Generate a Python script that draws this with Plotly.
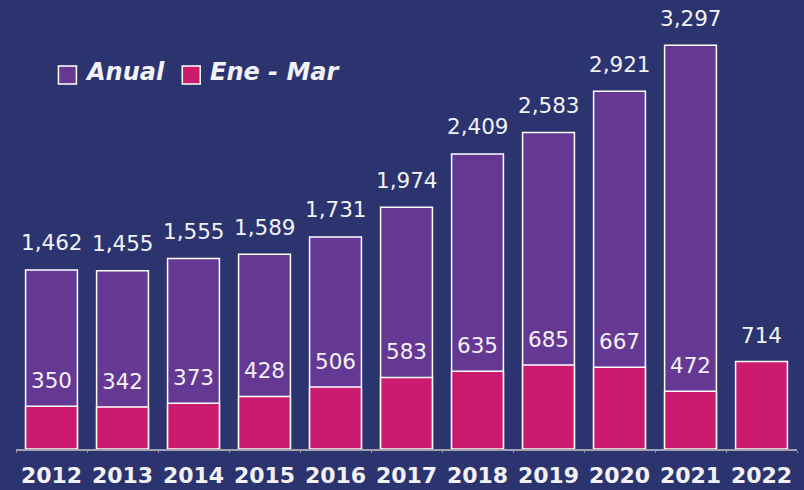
import plotly.graph_objects as go

years = ["2012", "2013", "2014", "2015", "2016", "2017", "2018", "2019", "2020", "2021", "2022"]
anual = [1462, 1455, 1555, 1589, 1731, 1974, 2409, 2583, 2921, 3297, None]
ene_mar = [350, 342, 373, 428, 506, 583, 635, 685, 667, 472, 714]

BG = "#2c3470"
PURPLE = "#653894"
MAGENTA = "#cc1b6e"
TXT = "#f2f2f4"
FONT = "DejaVu Sans"

fig = go.Figure()
fig.add_trace(go.Bar(
    x=years, y=anual, name="Anual",
    marker=dict(color=PURPLE, line=dict(color="white", width=1.5)),
    width=0.73, showlegend=False, hoverinfo="skip",
))
fig.add_trace(go.Bar(
    x=years, y=ene_mar, name="Ene - Mar",
    marker=dict(color=MAGENTA, line=dict(color="white", width=1.5)),
    width=0.73, showlegend=False, hoverinfo="skip",
))

# value labels above each bar (x given as category index)
annotations = []
for i, v in enumerate(anual):
    if v is not None:
        annotations.append(dict(
            x=i, y=v, text=f"{v:,}", showarrow=False, yanchor="middle",
            yshift=27, font=dict(family=FONT, size=21.5, color=TXT),
        ))
for i, v in enumerate(ene_mar):
    annotations.append(dict(
        x=i, y=v, text=f"{v:,}", showarrow=False, yanchor="middle",
        yshift=26, font=dict(family=FONT, size=21.5, color=TXT),
    ))

# legend drawn as swatches + labels
shapes = []
legend_items = [("Anual", PURPLE, 58, 83), ("Ene - Mar", MAGENTA, 182, 208)]
for label, col, sx, tx in legend_items:
    shapes.append(dict(
        type="rect", xref="paper", yref="paper",
        x0=(sx - 15.5) / 782, x1=(sx + 18 - 15.5) / 782,
        y0=(449 - 84) / 439, y1=(449 - 66) / 439,
        fillcolor=col, line=dict(color="white", width=1.5),
    ))
    annotations.append(dict(
        xref="paper", yref="paper", x=(tx - 15.5) / 782, y=(449 - 72) / 439,
        xanchor="left", yanchor="middle", text=f"<b><i>{label}</i></b>",
        showarrow=False, font=dict(family=FONT, size=24, color=TXT),
    ))

fig.update_layout(
    width=804, height=490,
    margin=dict(l=15.5, r=6.5, t=10, b=41),
    paper_bgcolor=BG, plot_bgcolor=BG,
    barmode="overlay", bargap=0.27,
    annotations=annotations, shapes=shapes,
    xaxis=dict(
        type="category", categoryorder="array", categoryarray=years,
        range=[-0.5, len(years) - 0.5], automargin=False,
        showgrid=False, showline=True, linecolor="#a3a3ad",
        linewidth=2, ticks="outside", tickson="boundaries", ticklen=2,
        tickcolor="#8e8ea0", tickwidth=1, ticklabelstandoff=6,
        tickfont=dict(family=FONT, size=22, color=TXT, weight="bold"),
        fixedrange=True,
    ),
    yaxis=dict(
        range=[0, 3584], showgrid=False, zeroline=False, showticklabels=False,
        automargin=False, fixedrange=True,
    ),
)

fig.write_html("out.html")
